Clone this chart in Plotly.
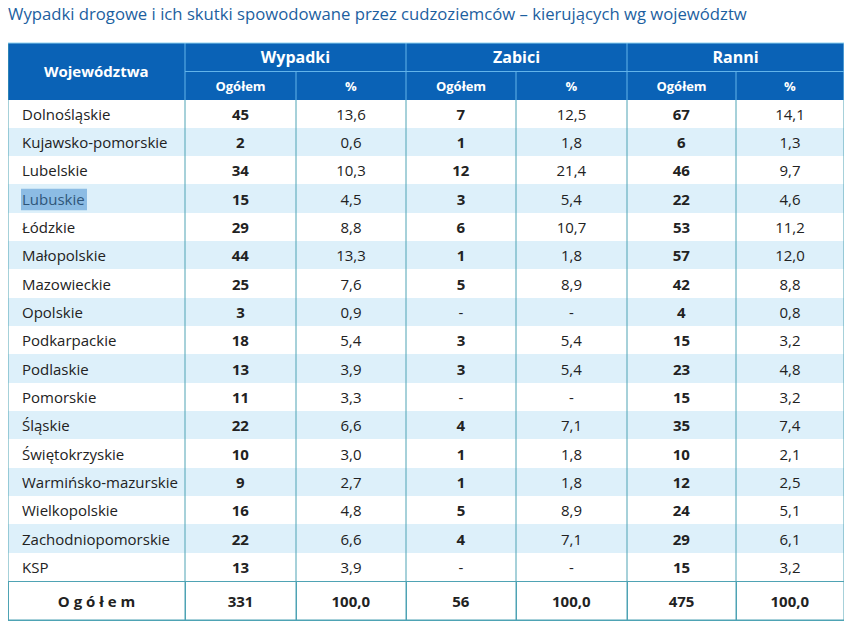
import plotly.graph_objects as go

title = "Wypadki drogowe i ich skutki spowodowane przez cudzoziemców – kierujących wg województw"
regions = ["Dolnośląskie", "Kujawsko-pomorskie", "Lubelskie", "Lubuskie", "Łódzkie",
           "Małopolskie", "Mazowieckie", "Opolskie", "Podkarpackie", "Podlaskie",
           "Pomorskie", "Śląskie", "Świętokrzyskie", "Warmińsko-mazurskie",
           "Wielkopolskie", "Zachodniopomorskie", "KSP"]
wyp_n = [45, 2, 34, 15, 29, 44, 25, 3, 18, 13, 11, 22, 10, 9, 16, 22, 13]
wyp_p = [13.6, 0.6, 10.3, 4.5, 8.8, 13.3, 7.6, 0.9, 5.4, 3.9, 3.3, 6.6, 3.0, 2.7, 4.8, 6.6, 3.9]
zab_n = [7, 1, 12, 3, 6, 1, 5, None, 3, 3, None, 4, 1, 1, 5, 4, None]
zab_p = [12.5, 1.8, 21.4, 5.4, 10.7, 1.8, 8.9, None, 5.4, 5.4, None, 7.1, 1.8, 1.8, 8.9, 7.1, None]
ran_n = [67, 6, 46, 22, 53, 57, 42, 4, 15, 23, 15, 35, 10, 12, 24, 29, 15]
ran_p = [14.1, 1.3, 9.7, 4.6, 11.2, 12.0, 8.8, 0.8, 3.2, 4.8, 3.2, 7.4, 2.1, 2.5, 5.1, 6.1, 3.2]
total_label = "O g ó ł e m"
totals = [331, 100.0, 56, 100.0, 475, 100.0]
group_headers = ["Wypadki", "Zabici", "Ranni"]
sub_headers = ["Ogółem", "%"]
first_header = "Województwa"
highlighted = "Lubuskie"  # text selection visible in the source picture

# the page has an 8px body margin: figure coords = screen coords - 8
OFF = 8
W, H = 844, 660
X0 = 0
col_w = [177, 111, 110, 110, 111, 109, 108]
Y_H1, Y_H2, Y_D, Y_T, Y_E = 43 - OFF, 71.5 - OFF, 100 - OFF, 581.5 - OFF, 620 - OFF
n = len(regions)
ROW_H = (Y_T - Y_H1) / (n + 2)

BLUE = "#0a62b6"
HLINE = "#63b4ea"
TOPLINE = "#8fd3f0"
TEAL = "#4fa3b4"
ALT = "#ddf0fa"
TXT = "#222222"
FONT = "Open Sans"
CLEAR = "rgba(0,0,0,0)"
TXT_K = 0.7  # text centre offset in a plotly table cell: 8px pad + k * font size


def plain(s):
    return f"<span>{s}</span>"


def fmt_int(v):
    return plain("-") if v is None else f"<b>{v}</b>"


def fmt_pct(v):
    return plain("-") if v is None else plain(f"{v:.1f}".replace(".", ","))


def xdom(widths, left=X0):
    return [left / W, min(1.0, (left + sum(widths)) / W)]


def ydom(top, bottom):
    return [max(0.0, 1 - bottom / H), min(1.0, 1 - top / H)]


fig = go.Figure()

# 1) background fills: two header rows + striped data rows (no text)
stripes = ["white" if i % 2 == 0 else ALT for i in range(n)]
fig.add_trace(go.Table(
    domain=dict(x=xdom(col_w), y=ydom(Y_H1, Y_T + 3)),
    columnwidth=col_w,
    header=dict(values=[["", ""]] * 7, fill_color=BLUE, line=dict(color=BLUE, width=1),
                height=ROW_H),
    cells=dict(values=[[""] * n] * 7, fill_color=[stripes] * 7,
               line=dict(color=[stripes] * 7, width=1), height=ROW_H),
))

# 2) total row background
fig.add_trace(go.Table(
    domain=dict(x=xdom(col_w), y=ydom(Y_T, Y_E + 30)),
    columnwidth=col_w,
    header=dict(values=[[""]] * 7, fill_color="white", line=dict(color=TEAL, width=1),
                height=Y_E - Y_T),
    cells=dict(values=[[""]] * 7, fill_color=CLEAR, line=dict(color=CLEAR, width=0), height=1),
))


def text_row(values, widths, centre_y, size, color, align):
    """Transparent one-row table carrying the texts of one table row."""
    top = centre_y - (8 + TXT_K * size)
    fig.add_trace(go.Table(
        domain=dict(x=xdom(widths), y=ydom(top, top + 70)),
        columnwidth=widths,
        header=dict(values=[[v] for v in values], fill_color=CLEAR,
                    line=dict(color=CLEAR, width=0), height=10,
                    font=dict(family=FONT, size=size, color=color), align=align),
        cells=dict(values=[[""]] * len(values), fill_color=CLEAR,
                   line=dict(color=CLEAR, width=0), height=1),
    ))


# 3) header texts
grp_w = [col_w[0], col_w[1] + col_w[2], col_w[3] + col_w[4], col_w[5] + col_w[6]]
text_row([""] + [f"<b>{g}</b>" for g in group_headers], grp_w,
         (Y_H1 + Y_H2) / 2, 16, "white", "center")
text_row([""] + [f"<b>{s}</b>" for s in sub_headers * 3], col_w,
         (Y_H2 + Y_D) / 2, 13, "white", "center")

# 4) data rows
ov_w = [6, col_w[0] - 6] + col_w[1:]
for i in range(n):
    vals = ["", plain(regions[i]),
            fmt_int(wyp_n[i]), fmt_pct(wyp_p[i]),
            fmt_int(zab_n[i]), fmt_pct(zab_p[i]),
            fmt_int(ran_n[i]), fmt_pct(ran_p[i])]
    text_row(vals, ov_w, Y_D + (i + 0.5) * ROW_H, 15, TXT, ["left", "left"] + ["center"] * 6)

# 5) total row texts
tot_vals = [f"<b>{total_label}</b>"] + [f"<b>{fmt_pct(v) if i % 2 else v}</b>" for i, v in enumerate(totals)]
text_row(tot_vals, col_w, (Y_T + Y_E) / 2 + 1, 15, TXT, "center")

# grid lines
xs = [X0]
for w in col_w:
    xs.append(xs[-1] + w)


def line(x0, y0, x1, y1, color):
    fig.add_shape(type="line", xref="paper", yref="paper",
                  x0=x0 / W, x1=x1 / W, y0=1 - y0 / H, y1=1 - y1 / H,
                  line=dict(color=color, width=1), layer="above")


for k, x in enumerate(xs):
    line(x, Y_D, x, Y_E, TEAL)
    if k in (0, len(xs) - 1):
        line(x, Y_H1, x, Y_D, TEAL if k == 0 else TOPLINE)
    elif k % 2 == 1:
        line(x, Y_H1, x, Y_D, HLINE)
    else:
        line(x, Y_H2, x, Y_D, HLINE)
line(xs[0], Y_H1, xs[-1], Y_H1, TOPLINE)
line(xs[1], Y_H2, xs[-1], Y_H2, HLINE)
line(xs[0], Y_T, xs[-1], Y_T, TEAL)
line(xs[0], Y_E, xs[-1], Y_E, TEAL)

# selection highlight over one region name
hi = regions.index(highlighted)
hc = Y_D + (hi + 0.5) * ROW_H
fig.add_shape(type="rect", xref="paper", yref="paper",
              x0=(X0 + 13) / W, x1=(X0 + 79) / W,
              y0=1 - (hc + 11) / H, y1=1 - (hc - 10.5) / H,
              fillcolor="rgba(60,135,205,0.5)", line=dict(width=0), layer="above")

fig.add_annotation(text=f"<b>{first_header}</b>", xref="paper", yref="paper",
                   x=(X0 + col_w[0] / 2) / W, y=1 - ((Y_H1 + Y_D) / 2) / H,
                   showarrow=False, font=dict(family=FONT, size=15, color="white"),
                   xanchor="center", yanchor="middle")

fig.update_layout(
    width=W, height=H, margin=dict(l=0, r=0, t=0, b=0),
    paper_bgcolor="white", plot_bgcolor="white",
    title=dict(text=title, x=0, xanchor="left", y=1 - (14 - OFF) / H, yanchor="middle",
               font=dict(family=FONT, size=16.7, color="#1d5f9f")),
)

fig.write_html("out.html")
